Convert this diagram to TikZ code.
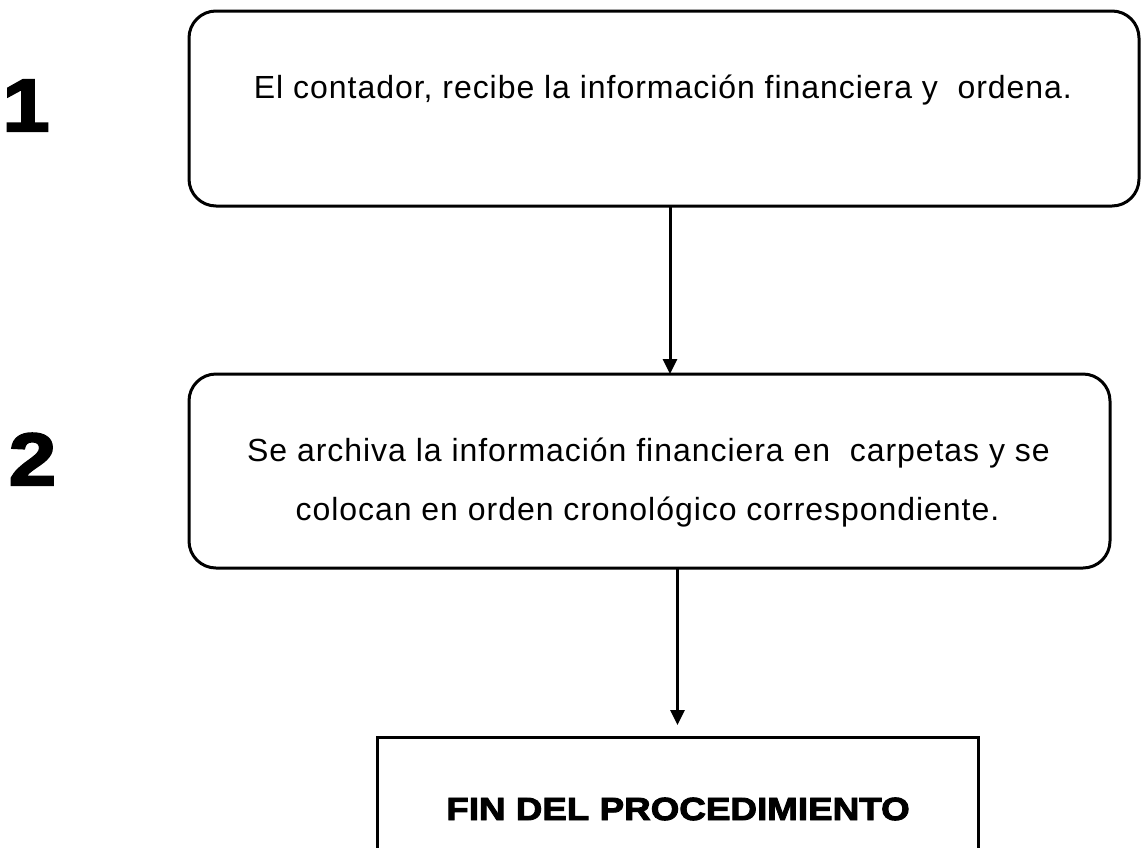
\documentclass[tikz,border=0pt]{standalone}
\usepackage{fontspec}
\setmainfont{Liberation Sans}
\newfontfamily\bodyfont{Liberation Sans}[LetterSpace=3]
\newfontfamily\heavyfont{Liberation Sans}[BoldFeatures={FakeBold=3,FakeStretch=1.15}]
\usetikzlibrary{arrows.meta,calc}
\tikzset{
  rbox/.style={draw, line width=3pt, rounded corners=27pt, inner sep=0pt, outer sep=0pt},
  sbox/.style={draw, line width=3pt, inner sep=0pt, outer sep=0pt},
  bodytext/.style={anchor=base, inner sep=0pt, font=\bodyfont\fontsize{32}{38}\selectfont},
  headtext/.style={anchor=base, inner sep=0pt, font=\heavyfont\bfseries\fontsize{32}{38}\selectfont},
  numtext/.style={anchor=base, inner sep=0pt, font=\heavyfont\bfseries\fontsize{74}{80}\selectfont},
  arr/.style={line width=3pt, -{Triangle[width=14pt,length=15pt]}}
}
\begin{document}
\begin{tikzpicture}[x=1pt,y=-1pt]
\useasboundingbox (0,0) rectangle (1143,847);
\fill[white] (0,0) rectangle (1143,847);
\clip (0,0) rectangle (1143,847);
% boxes
\node[rbox, minimum width=950pt, minimum height=195pt] (b1) at (664,108.5) {};
\node[rbox, minimum width=921pt, minimum height=194pt] (b2) at (649.5,471) {};
\node[sbox, minimum width=601pt, minimum height=200pt] (b3) at (677.5,837) {};
% texts
\node[bodytext] (t1) at (663,98) {El contador, recibe la información financiera y \ ordena.};
\node[bodytext] (t2a) at (648.5,461) {Se archiva la información financiera en \ carpetas y se};
\node[bodytext] (t2b) at (647.5,520) {colocan en orden cronológico correspondiente.};
\node[headtext] (t3) at (678,820) {FIN DEL PROCEDIMIENTO};
% step numbers
\node[numtext] (n1) at (26,131) {1};
\node[numtext] (n2) at (32.5,485) {2};
% connectors
\draw[arr] ($(b1.south)+(6,0)$) -- ($(b2.north)+(20.5,0)$);
\draw[arr, shorten >=12pt] ($(b2.south)+(28,0)$) -- ($(b3.north)+(0,0)$);
\end{tikzpicture}
\end{document}
